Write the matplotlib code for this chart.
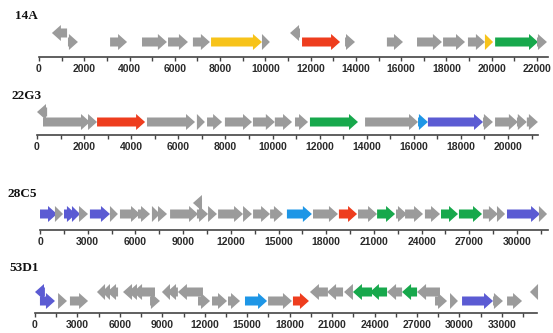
import matplotlib

matplotlib.use('Agg')
import matplotlib.pyplot as plt
from matplotlib.patches import Polygon
from matplotlib.ticker import MultipleLocator

# цвета генов
colors = {'g': '#9b9b9b', 'y': '#f7c31a', 'r': '#ee3d1e', 'gr': '#17a84c',
          'b': '#1e96e6', 'p': '#5b5bd3'}

# гены: start -> end (end < start = обратная цепь)
a14_start = [1240, 1280, 3140, 4550, 5700, 6800, 7600, 9850, 11530, 11620, 13520,
             15370, 16700, 17850, 18950, 19700, 20150, 22000]
a14_end = [570, 1720, 3890, 5650, 6580, 7550, 9850, 10200, 11090, 13300, 13960,
           16080, 17800, 18820, 19700, 20060, 22045, 22440]
a14_col = ['g', 'g', 'g', 'g', 'g', 'g', 'y', 'g', 'g', 'r', 'g',
           'g', 'g', 'g', 'g', 'y', 'gr', 'g']

a22_start = [430, 255, 2165, 2550, 4670, 6790, 7220, 7980, 9170, 10100, 10955,
             11590, 13930, 16180, 16600, 18940, 19450, 20380, 20800]
a22_end = [0, 2250, 2550, 4590, 6710, 7130, 7860, 9130, 10100, 10830, 11510,
           13630, 16180, 16600, 18940, 19360, 20420, 20800, 21270]
a22_col = ['g', 'g', 'g', 'r', 'g', 'g', 'g', 'g', 'g', 'g', 'g',
           'gr', 'g', 'b', 'p', 'g', 'g', 'g', 'g']

a28_start = [10190, 0, 940, 1510, 2010, 2450, 3140, 4400, 5030, 6160, 7040, 7420,
             8180, 9870, 10570, 11200, 12770, 13400, 14470, 15530, 17170, 18800,
             20000, 21200, 22390, 22960, 24210, 25220, 26350, 27860, 28740, 29370,
             31380]
a28_end = [9620, 1070, 1450, 2260, 2520, 3020, 4400, 4900, 6290, 6920, 7550, 7990,
           9940, 10570, 11130, 12770, 13330, 14470, 15280, 17100, 18740, 19940,
           21200, 22330, 23080, 24090, 25160, 26290, 27800, 28800, 29250, 31450,
           31890]
a28_col = ['g', 'p', 'g', 'p', 'p', 'g', 'p', 'g', 'g', 'g', 'g', 'g',
           'g', 'g', 'g', 'g', 'g', 'g', 'g', 'b', 'g', 'r',
           'g', 'gr', 'g', 'g', 'g', 'gr', 'gr', 'g', 'g', 'p',
           'g']

a53_start = [700, 350, 1630, 2470, 4950, 5300, 5870, 6860, 7210, 8480, 8130, 9540,
             10100, 11870, 11520, 12510, 13640, 14840, 16470, 18230, 20700, 21770,
             22470, 23820, 24880, 25940, 27000, 28620, 28270, 29330, 30180, 32370,
             33360, 35550]
a53_end = [0, 1410, 2260, 3750, 4380, 4730, 5090, 6220, 6570, 6930, 8830, 8970,
           9330, 10100, 12370, 13570, 14490, 16400, 18160, 19360, 19430, 20640,
           21840, 22470, 23670, 24880, 25940, 27000, 29120, 29890, 32370, 33070,
           34420, 34980]
a53_col = ['p', 'p', 'g', 'g', 'g', 'g', 'g', 'g', 'g', 'g', 'g', 'g',
           'g', 'g', 'g', 'g', 'g', 'b', 'g', 'r', 'g', 'g',
           'g', 'gr', 'gr', 'g', 'gr', 'g', 'g', 'g', 'p', 'g',
           'g', 'g']

names = ['14A', '22G3', '28C5', '53D1']

# раскладка в пикселях: x нуля, пикселей на bp, конец оси, y оси, ряды, шаг
layout = [
    dict(x0=39, s=0.022636, xend=548, yax=57, fwd=15, rev=24, step=2000, lab=(15, 16)),
    dict(x0=37, s=0.02355, xend=538, yax=135, fwd=13, rev=23, step=2000, lab=(12, 96)),
    dict(x0=40, s=0.0159, xend=548, yax=230, fwd=16, rev=27, step=3000, lab=(7, 194)),
    dict(x0=35, s=0.01415, xend=537, yax=313, fwd=12, rev=21, step=3000, lab=(9, 268)),
]

W, H = 553, 333
fig = plt.figure(figsize=(W / 100, H / 100), dpi=100)

BODY, HEAD, HEADLEN = 4.5, 8.0, 9.0  # пиксели


def gene_arrow(ax, start, end, yc, s, color):
    d = 1 if end >= start else -1
    length = abs(end - start)
    hl = min(HEADLEN / s, length)
    xb = end - d * hl
    pts = [(start, yc - BODY), (xb, yc - BODY), (xb, yc - HEAD), (end, yc),
           (xb, yc + HEAD), (xb, yc + BODY), (start, yc + BODY)]
    ax.add_patch(Polygon(pts, closed=True, facecolor=color, edgecolor='none',
                         clip_on=False))


genes = [(a14_start, a14_end, a14_col), (a22_start, a22_end, a22_col),
         (a28_start, a28_end, a28_col), (a53_start, a53_end, a53_col)]

for name, (st, en, col), L in zip(names, genes, layout):
    hpx = 40
    ax = fig.add_axes([L['x0'] / W, 1 - L['yax'] / H,
                       (L['xend'] - L['x0']) / W, hpx / H])
    ax.set_xlim(0, (L['xend'] - L['x0']) / L['s'])
    ax.set_ylim(0, hpx)
    for sp in ['top', 'left', 'right']:
        ax.spines[sp].set_visible(False)
    ax.spines['bottom'].set_color('#444444')
    ax.spines['bottom'].set_linewidth(1.2)
    ax.set_yticks([])
    ax.xaxis.set_major_locator(MultipleLocator(L['step']))
    ax.xaxis.set_minor_locator(MultipleLocator(L['step'] / 2))
    ax.tick_params(axis='x', which='both', direction='out', length=3, width=1,
                   color='#444444', pad=2, labelsize=7.5, labelcolor='#2a2a2a')
    for t in ax.get_xticklabels():
        t.set_family('Liberation Sans')
        t.set_fontweight('bold')
    ax.patch.set_alpha(0)

    for a, b, c in zip(st, en, col):
        yc = L['fwd'] if b >= a else L['rev']
        gene_arrow(ax, a, b, yc, L['s'], colors[c])

    fig.text(L['lab'][0] / W, 1 - L['lab'][1] / H, name, ha='left', va='center',
             fontsize=9.5, fontweight='bold', family='Liberation Serif', color='#111111')

fig.savefig('out.png', dpi=100)
